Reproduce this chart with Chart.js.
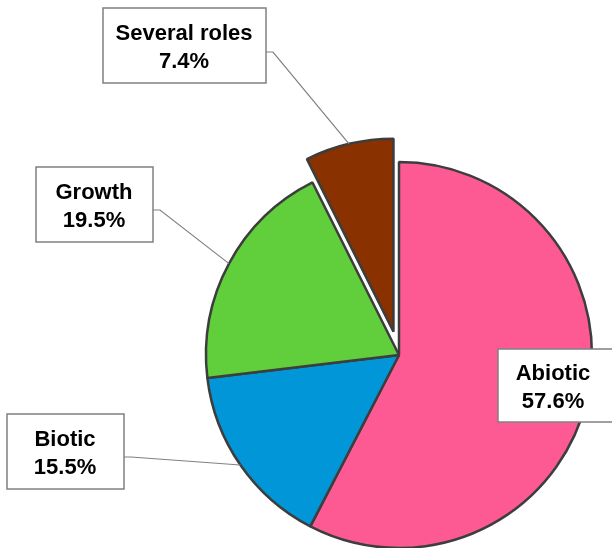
<!DOCTYPE html>
<html>
<head>
<meta charset="utf-8">
<script src="https://cdn.jsdelivr.net/npm/chart.js@4/dist/chart.umd.min.js"></script>
<style>
  html, body { margin: 0; padding: 0; background: #fff; }
  #wrap { width: 612px; height: 548px; }
</style>
</head>
<body>
<div id="wrap"><canvas id="myChart" width="612" height="548"></canvas></div>
<script>
// data
const categories = ['Abiotic', 'Biotic', 'Growth', 'Several roles'];
const shares = [57.6, 15.5, 19.5, 7.4];
const sliceColors = ['#FD5A93', '#0096D7', '#60CF3B', '#8A3100'];
const explode = [0, 0, 0, 24];

// callout boxes (left, top, width, height, text centre from left, y where the leader leaves)
const calloutBoxes = [
    {x: 498, y: 349, w: 130, h: 73, tx: 55, lineY: null},
    {x: 7, y: 414, w: 117, h: 75, tx: 58, lineY: 457},
    {x: 36, y: 167, w: 117, h: 75, tx: 58, lineY: 210},
    {x: 103, y: 8, w: 163, h: 75, tx: 81, lineY: 52}
];

// pulls a slice out without changing its radius
const explodePlugin = {
    id: 'explode',
    beforeDatasetsDraw(chart) {
        const arcs = chart.getDatasetMeta(0).data;
        arcs.forEach(function(arc, i){
            if (!explode[i] || arc._wrapped) return;
            const baseDraw = arc.draw;
            arc.draw = function(c){
                const mid = (this.startAngle + this.endAngle) / 2;
                c.save();
                c.translate(Math.cos(mid) * explode[i], Math.sin(mid) * explode[i]);
                baseDraw.call(this, c);
                c.restore();
            };
            arc._wrapped = true;
        });
    }
};

const calloutPlugin = {
    id: 'callouts',
    afterDatasetsDraw(chart) {
        const ctx = chart.ctx;
        const arcs = chart.getDatasetMeta(0).data;
        ctx.save();
        arcs.forEach(function(arc, i){
            const box = calloutBoxes[i];
            const mid = (arc.startAngle + arc.endAngle) / 2;
            const r = arc.outerRadius + explode[i];
            const ax = arc.x + Math.cos(mid) * r;
            const ay = arc.y + Math.sin(mid) * r;
            if (box.lineY !== null) {
                const bx = box.x + box.w;
                ctx.beginPath();
                ctx.strokeStyle = '#808080';
                ctx.lineWidth = 1.2;
                ctx.moveTo(bx, box.lineY);
                ctx.lineTo(bx + 7, box.lineY);
                ctx.lineTo(ax, ay);
                ctx.stroke();
            }
            ctx.fillStyle = '#ffffff';
            ctx.fillRect(box.x, box.y, box.w, box.h);
            ctx.strokeStyle = '#808080';
            ctx.lineWidth = 1.5;
            ctx.strokeRect(box.x, box.y, box.w, box.h);
            ctx.fillStyle = '#000000';
            ctx.font = 'bold 22px "Liberation Sans", Arial, sans-serif';
            ctx.textAlign = 'center';
            ctx.textBaseline = 'middle';
            const cx = box.x + box.tx;
            ctx.fillText(categories[i], cx, box.y + box.h / 2 - 12);
            ctx.fillText(shares[i].toFixed(1) + '%', cx, box.y + box.h / 2 + 16);
        });
        ctx.restore();
    }
};

let ctx = document.getElementById('myChart');
let myChart = new Chart(ctx, {
    type: 'pie',
    data: {
        labels: categories,
        datasets: [{
            data: shares,
            backgroundColor: sliceColors,
            borderColor: '#3d3d3d',
            borderWidth: 2.5,
            radius: 193,
            clip: false
        }]
    },
    options: {
        responsive: false,
        animation: false,
        layout: {
            padding: {left: 193, right: 7, top: 162, bottom: 0}
        },
        plugins: {
            legend: {display: false},
            tooltip: {enabled: false}
        }
    },
    plugins: [explodePlugin, calloutPlugin]
});
</script>
</body>
</html>
